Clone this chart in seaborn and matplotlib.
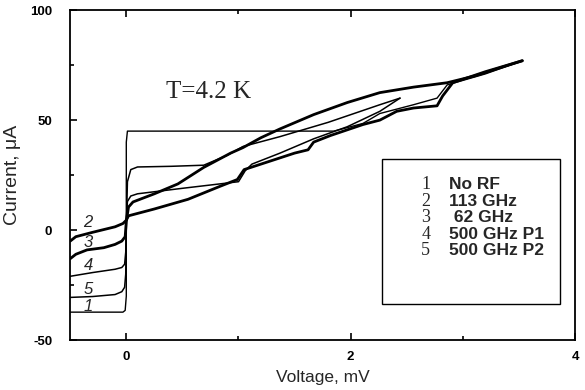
import matplotlib
matplotlib.use("Agg")
import matplotlib.pyplot as plt
import seaborn as sns
import pandas as pd
from matplotlib.patches import Rectangle
from matplotlib.ticker import MultipleLocator

# ---- data (voltage in mV, current in uA) ----
curve1_v = [-0.5, -0.03, -0.01, 0.0, 0.0, 0.01, 1.85, 2.11, 2.26, 2.56, 2.77, 2.86, 3.2, 3.53]
curve1_i = [-37.3, -37.3, -36.5, -30, 40, 45, 45, 48.5, 53, 57, 60, 66, 71, 77]

curve2_v = [-0.5, -0.45, -0.3, -0.1, -0.03, 0.0, 0.02, 0.25, 0.55, 0.84, 0.99, 1.05, 1.2, 1.5,
            1.62, 1.67, 1.82, 2.11, 2.26, 2.41, 2.56, 2.77, 2.82, 2.91, 3.2, 3.53]
curve2_i = [-5, -3, -1, 1.5, 3, 4.5, 6.5, 9.6, 14, 20, 23, 27.5, 30, 35,
            36.5, 40, 43, 48, 50, 54, 55.5, 56.5, 61, 67, 72, 77]

curve3_v = [-0.5, -0.45, -0.35, -0.2, -0.1, -0.04, -0.01, 0.0, 0.02, 0.06, 0.25, 0.46, 0.69,
            0.93, 1.04, 1.2, 1.37, 1.67, 1.97, 2.26, 2.56, 2.86, 3.1, 3.53]
curve3_i = [-13, -11, -9, -8, -6.5, -5, -3, 4, 10.5, 12.8, 16.5, 21, 28.5,
            35, 37.5, 42, 46, 52.5, 58, 62.5, 65, 67, 70, 77]

curve4_v = [-0.5, -0.3, -0.1, -0.04, -0.015, -0.005, 0.0, 0.01, 0.04, 0.1, 0.5, 1.0, 1.06,
            1.12, 1.37, 1.67, 1.97, 2.26, 2.44]
curve4_i = [-21, -19.3, -17.8, -17, -15.5, -10, 5, 13, 15.5, 16.5, 19, 22, 27,
            30, 35, 41.5, 47, 54, 60]

curve5_v = [-0.5, -0.3, -0.1, -0.04, -0.015, -0.005, 0.0, 0.01, 0.04, 0.1, 0.4, 0.69, 0.9,
            1.04, 1.37, 1.8, 2.26, 2.44]
curve5_i = [-30.6, -30.2, -29.3, -28, -26, -20, 0, 22, 27.5, 28.7, 29, 29.5, 34,
            38, 42.5, 49, 57, 60]

curve_ids = ["1", "2", "3", "4", "5"]
curve_names = ["No RF", "113 GHz", " 62 GHz", "500 GHz P1", "500 GHz P2"]
label_pos_v = [-0.34, -0.34, -0.34, -0.34, -0.34]
label_pos_i = [-34.7, 3.6, -5.5, -16, -27]

x_ticks = [0, 2, 4]
y_ticks = [-50, 0, 50, 100]

curves_v = [curve1_v, curve2_v, curve3_v, curve4_v, curve5_v]
curves_i = [curve1_i, curve2_i, curve3_i, curve4_i, curve5_i]
widths = [1.0, 2.0, 2.0, 1.1, 1.1]

frames = []
for cid, vv, ii in zip(curve_ids, curves_v, curves_i):
    frames.append(pd.DataFrame({"V": vv, "I": ii, "curve": cid, "order": range(len(vv))}))
df = pd.concat(frames, ignore_index=True)

sns.set_style("ticks")
plt.rcParams["font.family"] = ["Liberation Sans", "DejaVu Sans"]
plt.rcParams["axes.unicode_minus"] = False

fig = plt.figure(figsize=(5.85, 3.9), dpi=100)
ax = fig.add_axes([0.12, 0.128, 0.863, 0.846])

for cid, lw in zip(curve_ids, widths):
    sub = df[df["curve"] == cid]
    sns.lineplot(data=sub, x="V", y="I", sort=False, estimator=None, color="black",
                 linewidth=lw, ax=ax, legend=False)

ax.set_xlim(-0.5, 4)
ax.set_ylim(-50, 100)
ax.set_xticks(x_ticks)
ax.set_yticks(y_ticks)
ax.xaxis.set_minor_locator(MultipleLocator(1))
ax.yaxis.set_minor_locator(MultipleLocator(25))
ax.tick_params(axis="both", which="both", direction="in", top=True, right=False,
               labelsize=9.5, width=1.2, colors="black")
ax.tick_params(which="major", length=5)
ax.tick_params(which="minor", length=3)
ax.tick_params(axis="y", which="major", pad=13)
ax.tick_params(axis="x", which="major", pad=8)
for lab in ax.get_xticklabels() + ax.get_yticklabels():
    lab.set_fontweight("bold")
for s in ax.spines.values():
    s.set_linewidth(1.3)
    s.set_color("black")

ax.set_xlabel("Voltage, mV", fontsize=12.5, labelpad=5)
ax.set_ylabel("Current, \u03bcA", fontsize=14)
ax.yaxis.set_label_coords(-0.097, 0.5)

for cid, lv, li in zip(curve_ids, label_pos_v, label_pos_i):
    ax.text(lv, li, cid, fontsize=12, style="italic", ha="center", va="center")

ax.text(0.35, 63, "T=4.2 K", fontsize=18, family=["Liberation Serif", "DejaVu Serif"],
        ha="left", va="center")

ax.add_patch(Rectangle((2.28, -33.8), 1.59, 66.2, fill=False, edgecolor="black", lw=1.0))
for k, (cid, nm) in enumerate(zip(curve_ids, curve_names)):
    yy = 20.7 - k * 7.5
    ax.text(2.63, yy, cid, fontsize=13, family=["Liberation Serif", "DejaVu Serif"],
            ha="left", va="center")
    ax.text(2.88, yy, nm, fontsize=12.5, fontweight="bold", ha="left", va="center")

fig.savefig("out.png", dpi=100)
